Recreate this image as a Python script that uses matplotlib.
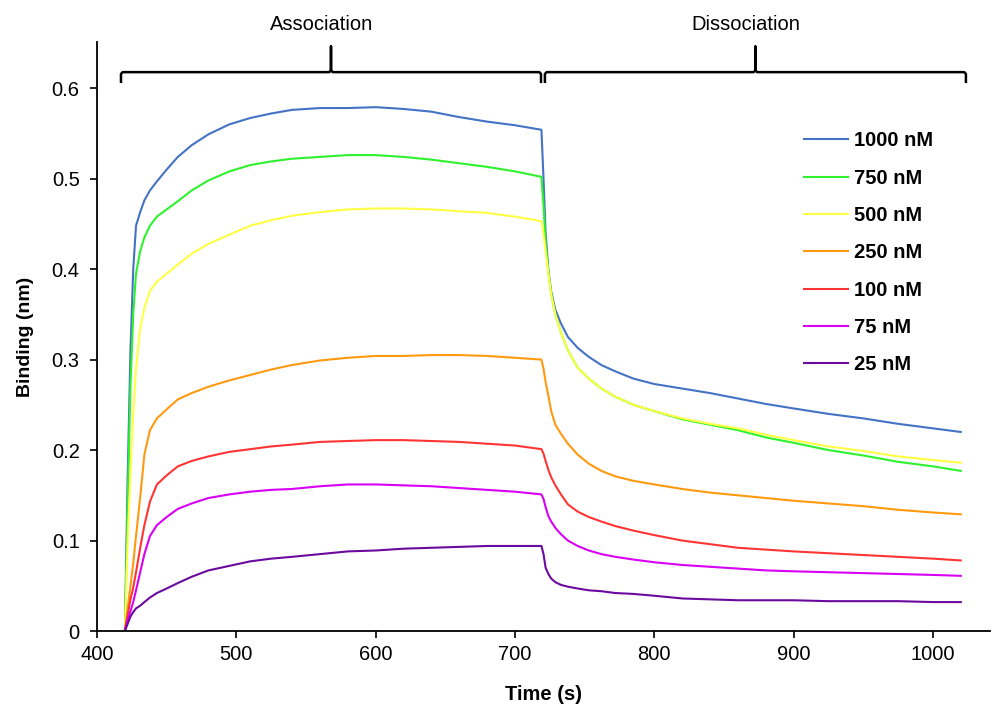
import matplotlib
matplotlib.use('Agg')
import matplotlib.pyplot as plt

plt.rcParams['font.family'] = ['Liberation Sans', 'DejaVu Sans']

# time axis (s)
time = [420, 422, 424, 426, 428, 431, 434, 438, 443, 450, 458, 468, 480, 495, 510, 525, 540, 560,
        580, 600, 620, 640, 660, 680, 700, 719, 720.5, 722, 724, 726, 729, 733, 738, 745, 753, 762,
        772, 785, 800, 820, 840, 860, 880, 900, 925, 950, 975, 1000, 1020]

nm1000 = [0, 0.17, 0.31, 0.40, 0.448, 0.463, 0.476, 0.487, 0.497, 0.510, 0.524, 0.537, 0.549, 0.560,
          0.567, 0.572, 0.576, 0.578, 0.578, 0.579, 0.577, 0.574, 0.568, 0.563, 0.559, 0.554, 0.50,
          0.44, 0.398, 0.375, 0.355, 0.340, 0.325, 0.313, 0.303, 0.294, 0.287, 0.279, 0.273, 0.268,
          0.263, 0.257, 0.251, 0.246, 0.240, 0.235, 0.229, 0.224, 0.220]
nm750 = [0, 0.14, 0.27, 0.351, 0.395, 0.420, 0.435, 0.448, 0.458, 0.466, 0.475, 0.487, 0.498, 0.508,
         0.515, 0.519, 0.522, 0.524, 0.526, 0.526, 0.524, 0.521, 0.517, 0.513, 0.508, 0.502, 0.47,
         0.43, 0.397, 0.373, 0.350, 0.330, 0.310, 0.291, 0.279, 0.268, 0.259, 0.250, 0.243, 0.234,
         0.228, 0.222, 0.214, 0.208, 0.200, 0.194, 0.187, 0.182, 0.177]
nm500 = [0, 0.10, 0.175, 0.24, 0.29, 0.335, 0.357, 0.376, 0.386, 0.395, 0.405, 0.417, 0.428, 0.438,
         0.448, 0.454, 0.459, 0.463, 0.466, 0.467, 0.467, 0.466, 0.464, 0.462, 0.458, 0.453, 0.44,
         0.42, 0.395, 0.372, 0.350, 0.330, 0.310, 0.291, 0.279, 0.268, 0.259, 0.250, 0.243, 0.235,
         0.229, 0.224, 0.217, 0.211, 0.204, 0.199, 0.193, 0.189, 0.186]
nm250 = [0, 0.025, 0.05, 0.075, 0.105, 0.148, 0.195, 0.222, 0.235, 0.245, 0.256, 0.263, 0.270, 0.277,
         0.283, 0.289, 0.294, 0.299, 0.302, 0.304, 0.304, 0.305, 0.305, 0.304, 0.302, 0.300, 0.29,
         0.275, 0.26, 0.243, 0.228, 0.218, 0.207, 0.195, 0.185, 0.177, 0.171, 0.166, 0.162, 0.157,
         0.153, 0.150, 0.147, 0.144, 0.141, 0.138, 0.134, 0.131, 0.129]
nm100 = [0, 0.018, 0.035, 0.048, 0.065, 0.092, 0.117, 0.143, 0.162, 0.172, 0.182, 0.188, 0.193, 0.198,
         0.201, 0.204, 0.206, 0.209, 0.210, 0.211, 0.211, 0.210, 0.209, 0.207, 0.205, 0.201, 0.196,
         0.188, 0.178, 0.170, 0.161, 0.151, 0.140, 0.132, 0.126, 0.121, 0.116, 0.111, 0.106, 0.100,
         0.096, 0.092, 0.090, 0.088, 0.086, 0.084, 0.082, 0.080, 0.078]
nm75 = [0, 0.012, 0.022, 0.032, 0.045, 0.065, 0.085, 0.105, 0.117, 0.126, 0.135, 0.141, 0.147, 0.151,
        0.154, 0.156, 0.157, 0.160, 0.162, 0.162, 0.161, 0.160, 0.158, 0.156, 0.154, 0.151, 0.146,
        0.137, 0.127, 0.121, 0.114, 0.107, 0.100, 0.094, 0.089, 0.085, 0.082, 0.079, 0.076, 0.073,
        0.071, 0.069, 0.067, 0.066, 0.065, 0.064, 0.063, 0.062, 0.061]
nm25 = [0, 0.008, 0.016, 0.021, 0.025, 0.028, 0.032, 0.037, 0.042, 0.047, 0.053, 0.060, 0.067, 0.072,
        0.077, 0.080, 0.082, 0.085, 0.088, 0.089, 0.091, 0.092, 0.093, 0.094, 0.094, 0.094, 0.085,
        0.070, 0.063, 0.058, 0.054, 0.051, 0.049, 0.047, 0.045, 0.044, 0.042, 0.041, 0.039, 0.036,
        0.035, 0.034, 0.034, 0.034, 0.033, 0.033, 0.033, 0.032, 0.032]

series = [nm1000, nm750, nm500, nm250, nm100, nm75, nm25]
labels = ['1000 nM', '750 nM', '500 nM', '250 nM', '100 nM', '75 nM', '25 nM']
colors = ['#4472C4', '#2EF22E', '#FFFF44', '#FF9A10', '#FF3535', '#D800F5', '#6A0A9E']

phases = [('Association', 420, 720), ('Dissociation', 720, 1020)]

fig = plt.figure(figsize=(9.93, 7.06), dpi=100)
ax = fig.add_axes([0.0977, 0.1062, 0.8993, 0.8343])

for y, lab, c in zip(series, labels, colors):
    ax.plot(time, y, color=c, lw=1.5, label=lab)

ax.set_xlim(400, 1041)
ax.set_ylim(0, 0.651)
ax.set_xticks([400, 500, 600, 700, 800, 900, 1000])
ax.set_yticks([0, 0.1, 0.2, 0.3, 0.4, 0.5, 0.6])
ax.set_yticklabels(['0', '0.1', '0.2', '0.3', '0.4', '0.5', '0.6'])
ax.tick_params(direction='out', length=5, width=1.2, labelsize=14.5)
ax.tick_params(axis='x', pad=5)
ax.tick_params(axis='y', pad=7.5)
for s in ['top', 'right']:
    ax.spines[s].set_visible(False)
for s in ['left', 'bottom']:
    ax.spines[s].set_linewidth(1.3)

ax.set_xlabel('Time (s)', fontsize=14.5, fontweight='bold')
ax.set_ylabel('Binding (nm)', fontsize=14, fontweight='bold')
ax.xaxis.set_label_coords(0.5, -0.091)
ax.yaxis.set_label_coords(-0.071, 0.5)

# phase brackets (small gap between the two around the switch)
y_bar, y_end, y_tip = 0.6177, 0.607, 0.646
insets = [(-2.8, -1.3), (1.5, 3.7)]
for (name, t0, t1), (da, db) in zip(phases, insets):
    a, b = t0 + da, t1 + db
    mid = (a + b) / 2
    bx = [a, a, a + 1.2, mid - 1.2, mid, mid, mid, mid + 1.2, b - 1.2, b, b]
    by = [y_end, y_bar - 0.002, y_bar, y_bar, y_bar + 0.002, y_tip, y_bar + 0.002, y_bar, y_bar,
          y_bar - 0.002, y_end]
    ax.plot(bx, by, color='black', lw=1.8, clip_on=False, solid_joinstyle='round')
    ax.text(mid - 6.8, 0.6705, name, ha='center', va='center', fontsize=14.5, clip_on=False)

leg = ax.legend(loc='upper left', bbox_to_anchor=(0.7716, 0.879), frameon=False,
                prop={'weight': 'bold', 'size': 14.5}, handlelength=2.2, handletextpad=0.25,
                labelspacing=0.91)

fig.savefig('out.png', dpi=100)
